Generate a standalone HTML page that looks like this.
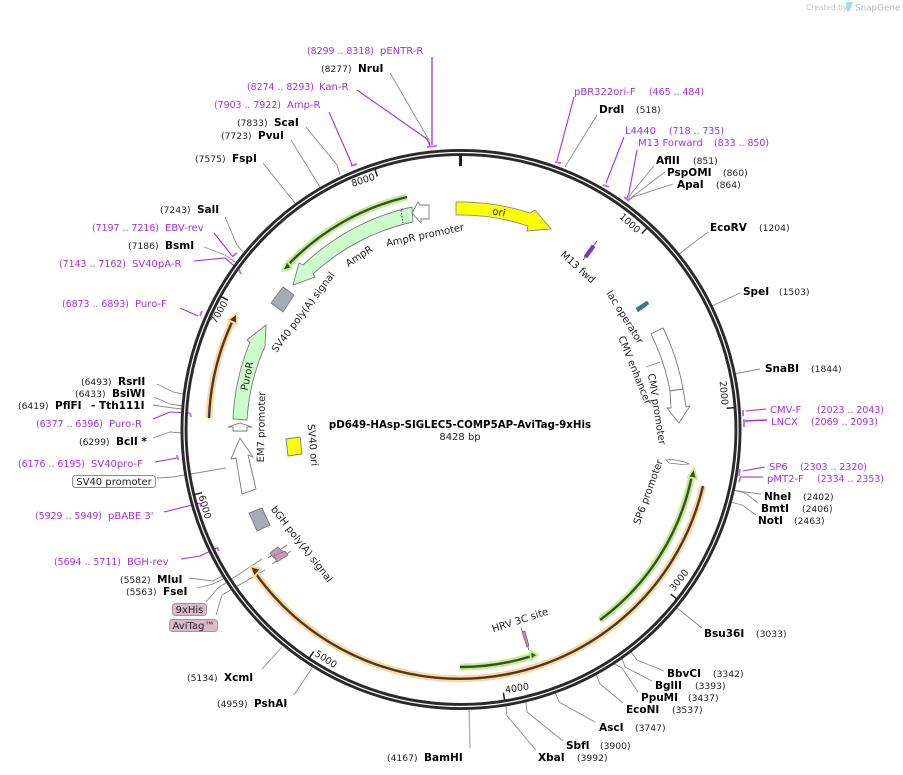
<!DOCTYPE html>
<html><head><meta charset="utf-8"><style>
html,body{margin:0;padding:0;background:#fff}
svg{display:block}
text{font-family:"DejaVu Sans","Liberation Sans",sans-serif;white-space:pre}
.n{font-size:10.5px;font-weight:bold;fill:#000}
.c{font-size:9.2px;fill:#222}
.p{font-size:10px;fill:#a32cf0}
.q{font-size:9.4px;fill:#a32cf0}
.f{font-size:10px;fill:#222;text-anchor:middle}
.k{font-size:9.5px;fill:#222;text-anchor:middle}
.g{fill:none;stroke:#8a8a8a;stroke-width:.9}
.v{fill:none;stroke:#a32cf0;stroke-width:1.1}
.w{fill:none;stroke:#bb66f2;stroke-width:1.8}
.s{stroke:#7a7a7a;stroke-width:.9}
</style></head><body>
<svg xmlns="http://www.w3.org/2000/svg" width="903" height="775" viewBox="0 0 903 775">
<rect width="903" height="775" fill="#fff"/>

<!-- logo -->
<text x="806" y="10" style="font-size:7.5px;fill:#c4c4c4">Created by</text>
<path d="M846 2h5.500c1 0 1.500 1 1 2l-2.500 6c-.8 2-3 2-3.300 0z" fill="#a8d8ee"/>
<text x="855" y="10.500" style="font-size:8.800px;fill:#b0b6ba">SnapGene</text>

<!-- leaders -->
<g class="leaders">
<polyline class="g" points="390,73 429,140 430,145"/>
<polyline class="g" points="306,127 337,165 340,175"/>
<polyline class="g" points="291,140 320,187"/>
<polyline class="g" points="263,163 295,203"/>
<polyline class="g" points="225,217 237,245 243,252"/>
<polyline class="g" points="204,247 225,255 235,262"/>
<polyline class="g" points="157,384 173,392 183,394"/>
<polyline class="g" points="154,397 170,404 182,406"/>
<polyline class="g" points="153,405 173,408 182,409"/>
<polyline class="g" points="153,438 170,432 182,433"/>
<polyline class="g" points="157,478 173,477 226,468"/>
<polyline class="g" points="189,578 213,581 222,576"/>
<polyline class="g" points="197,588 213,584 225,578"/>
<polyline class="g" points="206,602 218,588 262,559"/>
<polyline class="g" points="216,615 222,595 265,570"/>
<polyline class="g" points="262,669 282,647"/>
<polyline class="g" points="294,695 312,668"/>
<polyline class="g" points="470,748 469,708" style="stroke:#aaa;stroke-width:1.2"/>
<polyline class="g" points="536,750 507,716 506,705"/>
<polyline class="g" points="563,741 527,712 526,702"/>
<polyline class="g" points="595,722 559,702 555,692"/>
<polyline class="g" points="623,703 600,684 596,674"/>
<polyline class="g" points="638,692 622,668 613,663"/>
<polyline class="g" points="652,681 625,667 622,658"/>
<polyline class="g" points="664,671 637,660 631,652"/>
<polyline class="g" points="702,628 677,608"/>
<polyline class="g" points="756,515 742,505 730,502"/>
<polyline class="g" points="758,503 745,493 733,490"/>
<polyline class="g" points="761,494 745,492 733,490"/>
<polyline class="g" points="760,369 734,374"/>
<polyline class="g" points="740,293 712,306"/>
<polyline class="g" points="708,232 679,254"/>
<polyline class="g" points="673,184 633,197 628,201"/>
<polyline class="g" points="665,172 632,197 628,201"/>
<polyline class="g" points="654,166 630,195 628,201"/>
<polyline class="g" points="597,115 568,162 565,167"/>
<polyline class="g" points="646,367 660,362"/>
</g>

<!-- primers -->
<polyline class="w" points="432,57 432,145"/><line class="w" x1="427" y1="147" x2="437" y2="146"/>
<polyline class="v" points="357,90 427,139 430,146"/>
<polyline class="v" points="329,112 350,160 352,165"/><line class="w" x1="351" y1="166" x2="357" y2="164"/>
<polyline class="v" points="214,233 233,257"/><line class="w" x1="233" y1="256" x2="237" y2="253"/>
<polyline class="v" points="194,261 225,258 240,271"/><line class="w" x1="239" y1="270" x2="241" y2="274"/>
<polyline class="v" points="180,308 198,316"/><line class="w" x1="202" y1="311" x2="200" y2="316"/>
<polyline class="v" points="153,419 170,412 190,413"/><line class="w" x1="190" y1="413" x2="191" y2="417"/>
<polyline class="v" points="155,462 177,458"/><line class="w" x1="177" y1="455" x2="178" y2="460"/>
<polyline class="v" points="164,512 200,503"/><line class="w" x1="200" y1="503" x2="201" y2="507"/>
<polyline class="v" points="181,559 200,556 217,548"/><line class="w" x1="217" y1="547" x2="219" y2="551"/>
<polyline class="w" points="763,477 742,477" style="stroke-width:1.5"/><line class="w" x1="741" y1="476" x2="739" y2="482"/>
<polyline class="v" points="765,467 743,471"/><line class="w" x1="740" y1="469" x2="739" y2="476"/>
<polyline class="v" points="767,420 745,421" style="stroke-width:1.5"/><line class="w" x1="744" y1="419" x2="744" y2="427"/>
<polyline class="v" points="766,409 746,411"/><line class="w" x1="743" y1="410" x2="743" y2="416"/>
<polyline class="v" points="637,150 629,193 627,198"/><line class="w" x1="624" y1="197" x2="629" y2="201"/>
<polyline class="v" points="624,137 606,183"/><line class="w" x1="603" y1="185" x2="609" y2="187"/>
<polyline class="v" points="574,97 557,161"/><line class="w" x1="555" y1="162" x2="561" y2="163"/>

<!-- ring -->
<circle cx="461" cy="429.500" r="277" fill="none" stroke="#2a2a2a" stroke-width="7"/>
<circle cx="461" cy="429.500" r="277" fill="none" stroke="#fff" stroke-width="1.200"/>
<line x1="460.500" y1="155" x2="460.500" y2="166" stroke="#222" stroke-width="3"/>
<g stroke="#222" stroke-width="1.500">
<line x1="461" y1="155" x2="461" y2="163" transform="rotate(42.71 461 429.5)"/>
<line x1="461" y1="155" x2="461" y2="163" transform="rotate(85.43 461 429.5)"/>
<line x1="461" y1="155" x2="461" y2="163" transform="rotate(128.14 461 429.5)"/>
<line x1="461" y1="155" x2="461" y2="163" transform="rotate(170.85 461 429.5)"/>
<line x1="461" y1="155" x2="461" y2="163" transform="rotate(213.57 461 429.5)"/>
<line x1="461" y1="155" x2="461" y2="163" transform="rotate(256.28 461 429.5)"/>
<line x1="461" y1="155" x2="461" y2="163" transform="rotate(298.99 461 429.5)"/>
<line x1="461" y1="155" x2="461" y2="163" transform="rotate(341.71 461 429.5)"/>
</g>
<text class="k" dy=".35em" transform="translate(630 223) rotate(42)">1000</text>
<text class="k" dy=".35em" transform="translate(724 393) rotate(85)">2000</text>
<text class="k" dy=".35em" transform="translate(679 580) rotate(-52)">3000</text>
<text class="k" dy=".35em" transform="translate(517 688) rotate(-9)">4000</text>
<text class="k" dy=".35em" transform="translate(326 659) rotate(33)">5000</text>
<text class="k" dy=".35em" transform="translate(205 507) rotate(74)">6000</text>
<text class="k" dy=".35em" transform="translate(219 312) rotate(-61)">7000</text>
<text class="k" dy=".35em" transform="translate(363 180) rotate(-18)">8000</text>

<!-- halo arcs -->
<g fill="none" stroke-linecap="butt">
<path d="M407 197 A239 239 0 0 0 287 266" stroke="#bdf08e" stroke-width="7"/>
<path d="M407 197 A239 239 0 0 0 287 266" stroke="#3f4a30" stroke-width="2.400"/>
<path d="M209 418 A252.500 252.500 0 0 1 233 320" stroke="#fdd79c" stroke-width="7"/>
<path d="M209 418 A252.500 252.500 0 0 1 233 320" stroke="#453a30" stroke-width="2.400"/>
<path d="M703 486 A250 250 0 0 1 254 571" stroke="#fdd79c" stroke-width="7"/>
<path d="M703 486 A250 250 0 0 1 254 571" stroke="#453a30" stroke-width="2.400"/>
<path d="M600 620 A236 236 0 0 0 692 475" stroke="#bdf08e" stroke-width="7"/>
<path d="M600 620 A236 236 0 0 0 692 475" stroke="#3f4a30" stroke-width="2.400"/>
<path d="M460 667 A237.500 237.500 0 0 0 532 656" stroke="#bdf08e" stroke-width="7"/>
<path d="M460 667 A237.500 237.500 0 0 0 532 656" stroke="#3f4a30" stroke-width="2.400"/>
</g>
<g stroke-linejoin="round">
<polygon points="282,271 287,261 292,268" fill="#3f4a30" stroke="#bdf08e" stroke-width="2"/>
<polygon points="237,313 228,320 237,324" fill="#453a30" stroke="#fdd79c" stroke-width="2"/>
<polygon points="250,566 261,569 254,577" fill="#453a30" stroke="#fdd79c" stroke-width="2"/>
<polygon points="694,468 688,477 697,479" fill="#3f4a30" stroke="#bdf08e" stroke-width="2"/>
<polygon points="538,655 530,651 531,660" fill="#3f4a30" stroke="#bdf08e" stroke-width="2"/>
</g>

<!-- features -->
<path d="M456 202 A227 227 0 0 1 530 213 L535 210 L551 229 L527 231 L528 226 A214 214 0 0 0 456 215 Z" fill="#ffff00" stroke="#888" stroke-width=".9"/>
<path d="M412 207 A228 228 0 0 0 303 265 L299 263 L293 285 L315 277 L313 274 A214 214 0 0 1 413 222 Z" fill="#ccfccc" stroke="#7a7a7a" stroke-width=".9"/>
<line x1="401" y1="210" x2="403" y2="223" stroke="#333" stroke-width="1" stroke-dasharray="1.500 1.500"/>
<polygon points="412,213 418,202 420,205 429,205 429,219 421,219 421,223" fill="#fff" class="s"/>
<polygon points="283,287 294,295 283,312 271,303" fill="#a6abb5" class="s"/>
<path d="M233 419 A229 229 0 0 1 250 342 L247 340 L266 325 L265 347 L262 353 A214 214 0 0 0 247 420 Z" fill="#ccfccc" class="s"/>
<polygon points="228,427 240,423 252,427 247,427 247,431 233,431 233,427" fill="#fff" class="s"/>
<polygon points="240,438 231,459 236,458 242,494 256,489 248,455 253,457" fill="#fff" class="s"/>
<polygon points="286,439 300,437 302,454 288,456" fill="#ffff00" class="s"/>
<polygon points="249,513 262,508 270,525 257,531" fill="#a6abb5" class="s"/>
<line x1="268" y1="558" x2="287" y2="545" class="s"/><line x1="272" y1="564" x2="291" y2="551" class="s"/>
<polygon points="270,553 278,547 283,552 274,558" fill="#c999b4" class="s"/>
<polygon points="274,556 285,551 288,555 277,562" fill="#c999b4" class="s"/>
<line x1="521" y1="628" x2="529" y2="650" stroke="#555" stroke-width=".8"/>
<polygon points="522,632 525,631 529,646 527,647" fill="#c48bb0" stroke="#666" stroke-width=".7"/>
<line x1="583" y1="260" x2="597" y2="241" stroke="#444" stroke-width=".8"/>
<polygon points="584,256 592,245 595,247 587,258" fill="#8a2be2" stroke="#555" stroke-width=".6"/>
<polygon points="636,308 647,301 649,304 638,312" fill="#2f7f8f" stroke="#666" stroke-width=".5"/>
<path d="M651 334 L663 328 A226 226 0 0 1 683 389 L670 391 A212.500 212.500 0 0 0 651 334 Z" fill="#fff" class="s"/>
<polygon points="670,391 683,389 686,407 690,406 679,423 667,408 671,408" fill="#fff" class="s"/>
<polygon points="666,460 673,459.500 685,462 689,464 682,464.500 669,463" fill="#fff" stroke="#7a7a7a" stroke-width=".8"/>

<!-- feature labels -->
<text class="f" dy=".35em" transform="translate(499 212) rotate(10)">ori</text>
<text class="f" dy=".35em" transform="translate(578 267) rotate(42)">M13 fwd</text>
<text class="f" dy=".35em" transform="translate(625 317) rotate(58)">lac operator</text>
<text class="f" dy=".35em" transform="translate(635 370) rotate(68)">CMV enhancer</text>
<text class="f" dy=".35em" transform="translate(657 409) rotate(81)">CMV promoter</text>
<text class="f" dy=".35em" transform="translate(648 492) rotate(-70)">SP6 promoter</text>
<text class="f" dy=".35em" transform="translate(520 620) rotate(-18)">HRV 3C site</text>
<text class="f" dy=".35em" transform="translate(302 544) rotate(52)">bGH poly(A) signal</text>
<text class="f" dy=".35em" transform="translate(313 445) rotate(85)">SV40 ori</text>
<text class="f" dy=".35em" transform="translate(261 427) rotate(-89)">EM7 promoter</text>
<text class="f" dy=".35em" transform="translate(247 376) rotate(-78)">PuroR</text>
<text class="f" dy=".35em" transform="translate(303 312) rotate(-53)">SV40 poly(A) signal</text>
<text class="f" dy=".35em" transform="translate(359 256) rotate(-33)">AmpR</text>
<text class="f" dy=".35em" transform="translate(425 235) rotate(-12)">AmpR promoter</text>

<text x="460" y="428" text-anchor="middle" class="n" style="font-size:10.250px">pD649-HAsp-SIGLEC5-COMP5AP-AviTag-9xHis</text>
<text x="460" y="440" text-anchor="middle" style="font-size:10px;fill:#222">8428 bp</text>

<!-- site labels -->
<text class="q" x="307" y="54">(8299 .. 8318)</text><text class="p" x="380" y="54">pENTR-R</text>
<text class="c" x="321" y="72">(8277)</text><text class="n" x="358" y="72">NruI</text>
<text class="q" x="247" y="90">(8274 .. 8293)</text><text class="p" x="319" y="90">Kan-R</text>
<text class="q" x="214" y="108">(7903 .. 7922)</text><text class="p" x="287" y="108">Amp-R</text>
<text class="c" x="237" y="126">(7833)</text><text class="n" x="274" y="126">ScaI</text>
<text class="c" x="221" y="139">(7723)</text><text class="n" x="258" y="139">PvuI</text>
<text class="c" x="195" y="162">(7575)</text><text class="n" x="232" y="162">FspI</text>
<text class="c" x="160" y="213">(7243)</text><text class="n" x="197" y="213">SalI</text>
<text class="q" x="92" y="231">(7197 .. 7216)</text><text class="p" x="165" y="231">EBV-rev</text>
<text class="c" x="128" y="249">(7186)</text><text class="n" x="165" y="249">BsmI</text>
<text class="q" x="59" y="267">(7143 .. 7162)</text><text class="p" x="132" y="267">SV40pA-R</text>
<text class="q" x="62" y="307">(6873 .. 6893)</text><text class="p" x="135" y="307">Puro-F</text>
<text class="c" x="81" y="385">(6493)</text><text class="n" x="118" y="385">RsrII</text>
<text class="c" x="75" y="397">(6433)</text><text class="n" x="112" y="397">BsiWI</text>
<text class="c" x="18" y="409">(6419)</text><text class="n" x="55" y="409">PflFI</text><text class="n" x="91" y="409">- Tth111I</text>
<text class="q" x="36" y="427">(6377 .. 6396)</text><text class="p" x="109" y="427">Puro-R</text>
<text class="c" x="79" y="445">(6299)</text><text class="n" x="116" y="445">BclI *</text>
<text class="q" x="18" y="467">(6176 .. 6195)</text><text class="p" x="91" y="467">SV40pro-F</text>
<rect x="72.500" y="475.500" width="83" height="12" rx="3" fill="#fff" stroke="#888" stroke-width=".9"/>
<text x="114" y="485" text-anchor="middle" style="font-size:10px;fill:#222">SV40 promoter</text>
<text class="q" x="35" y="519">(5929 .. 5949)</text><text class="p" x="108" y="519">pBABE 3'</text>
<text class="q" x="54" y="565">(5694 .. 5711)</text><text class="p" x="127" y="565">BGH-rev</text>
<text class="c" x="120" y="583">(5582)</text><text class="n" x="157" y="583">MluI</text>
<text class="c" x="126" y="595">(5563)</text><text class="n" x="163" y="595">FseI</text>
<rect x="172.500" y="603.500" width="34" height="12" rx="3" fill="#dcb8c8" stroke="#b08ca0" stroke-width=".9"/>
<text x="189.500" y="613" text-anchor="middle" style="font-size:10px;fill:#222">9xHis</text>
<rect x="169.500" y="619.500" width="48" height="12" rx="3" fill="#dcb8c8" stroke="#b08ca0" stroke-width=".9"/>
<text x="193.500" y="629" text-anchor="middle" style="font-size:10px;fill:#222">AviTag™</text>
<text class="c" x="187" y="681">(5134)</text><text class="n" x="224" y="681">XcmI</text>
<text class="c" x="217" y="707">(4959)</text><text class="n" x="254" y="707">PshAI</text>
<text class="c" x="387" y="761">(4167)</text><text class="n" x="424" y="761">BamHI</text>
<text class="n" x="538" y="761">XbaI</text><text class="c" x="577" y="761">(3992)</text>
<text class="n" x="566" y="749">SbfI</text><text class="c" x="600" y="749">(3900)</text>
<text class="n" x="599" y="731">AscI</text><text class="c" x="635" y="731">(3747)</text>
<text class="n" x="626" y="713">EcoNI</text><text class="c" x="672" y="713">(3537)</text>
<text class="n" x="641" y="701">PpuMI</text><text class="c" x="688" y="701">(3437)</text>
<text class="n" x="655" y="689">BglII</text><text class="c" x="695" y="689">(3393)</text>
<text class="n" x="667" y="677">BbvCI</text><text class="c" x="713" y="677">(3342)</text>
<text class="n" x="704" y="637">Bsu36I</text><text class="c" x="756" y="637">(3033)</text>
<text class="n" x="758" y="524">NotI</text><text class="c" x="794" y="524">(2463)</text>
<text class="n" x="761" y="512">BmtI</text><text class="c" x="802" y="512">(2406)</text>
<text class="n" x="764" y="500">NheI</text><text class="c" x="803" y="500">(2402)</text>
<text class="p" x="767" y="482">pMT2-F</text><text class="q" x="817" y="482">(2334 .. 2353)</text>
<text class="p" x="769" y="470">SP6</text><text class="q" x="800" y="470">(2303 .. 2320)</text>
<text class="p" x="771" y="425">LNCX</text><text class="q" x="811" y="425">(2069 .. 2093)</text>
<text class="p" x="770" y="413">CMV-F</text><text class="q" x="817" y="413">(2023 .. 2043)</text>
<text class="n" x="765" y="372">SnaBI</text><text class="c" x="811" y="372">(1844)</text>
<text class="n" x="743" y="295">SpeI</text><text class="c" x="779" y="295">(1503)</text>
<text class="n" x="710" y="231">EcoRV</text><text class="c" x="759" y="231">(1204)</text>
<text class="n" x="677" y="188">ApaI</text><text class="c" x="716" y="188">(864)</text>
<text class="n" x="667" y="176">PspOMI</text><text class="c" x="723" y="176">(860)</text>
<text class="n" x="656" y="164">AflII</text><text class="c" x="693" y="164">(851)</text>
<text class="p" x="638" y="146">M13 Forward</text><text class="q" x="714" y="146">(833 .. 850)</text>
<text class="p" x="625" y="134">L4440</text><text class="q" x="669" y="134">(718 .. 735)</text>
<text class="n" x="599" y="113">DrdI</text><text class="c" x="636" y="113">(518)</text>
<text class="p" x="574" y="95">pBR322ori-F</text><text class="q" x="649" y="95">(465 .. 484)</text>
</svg>
</body></html>
